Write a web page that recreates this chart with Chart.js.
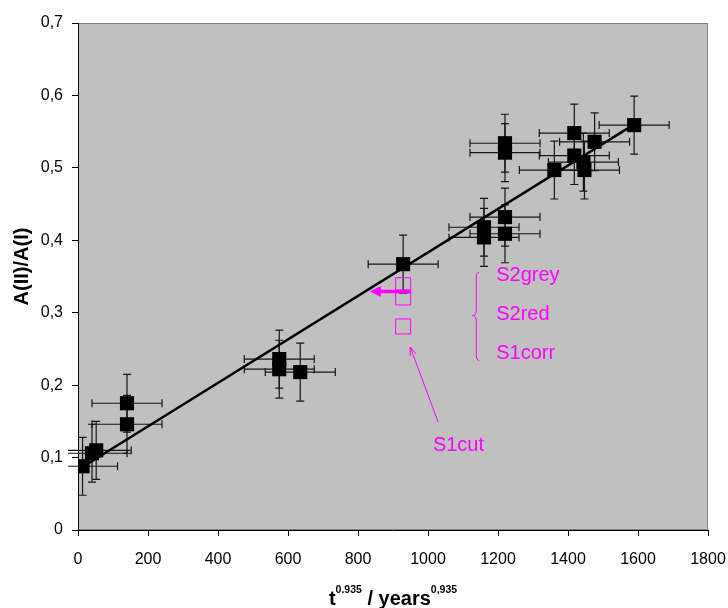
<!DOCTYPE html>
<html>
<head>
<meta charset="utf-8">
<script src="https://cdn.jsdelivr.net/npm/chart.js@4.4.0/dist/chart.umd.min.js"></script>
<style>
  body { margin: 0; background: #fff; }
  canvas { display: block; }
</style>
</head>
<body>
<canvas id="chart" width="728" height="608"></canvas>
<script>
// Measured points (black squares)
const pointX = [13, 40, 52, 140, 140, 575, 575, 635, 929, 1160, 1160, 1220, 1220, 1220, 1220, 1361, 1418, 1418, 1444, 1447, 1476, 1589];
const pointY = [0.088, 0.106, 0.110, 0.175, 0.146, 0.236, 0.222, 0.218, 0.367, 0.418, 0.404, 0.432, 0.409, 0.534, 0.521, 0.497, 0.548, 0.517, 0.508, 0.497, 0.536, 0.559];
const xError = 100;
const yError = 0.04;

// Linear fit
const fitX = [13, 1589];
const fitY = [0.087, 0.560];

// Corrected values (open magenta squares)
const magX = [929, 929, 929];
const magY = [0.338, 0.321, 0.281];
const magLabels = ['S2grey', 'S2red', 'S1corr'];
const magLabelX = 1195;
const magLabelY = [0.351, 0.298, 0.2435];

// Annotation anchors (data units)
const shiftArrow = { from: [949, 0.3294], to: [834, 0.3294] };
const braceX = [1127, 1138, 1146];   // tip, body, ends
const braceY = [0.356, 0.296, 0.234]; // top, middle, bottom
const cutLabel = { text: 'S1cut', x: 1014, y: 0.116 };
const cutArrow = { from: [1029, 0.149], to: [949, 0.2527] };

const MAGENTA = '#ff00ff';
const FONT = "'Liberation Sans', Arial, sans-serif";

// Grey plot area with a thin frame
const plotBg = {
  id: 'plotBg',
  beforeDraw(chart) {
    const { ctx, chartArea: a } = chart;
    ctx.save();
    ctx.fillStyle = '#c0c0c0';
    ctx.fillRect(a.left, a.top, a.width, a.height);
    ctx.strokeStyle = '#808080';
    ctx.lineWidth = 1;
    ctx.strokeRect(a.left + 0.5, a.top + 0.5, a.width - 1, a.height - 1);
    ctx.restore();
  }
};

// Error bars under the squares
const errorBars = {
  id: 'errorBars',
  beforeDatasetsDraw(chart) {
    const { ctx, chartArea: a, scales: { x, y } } = chart;
    ctx.save();
    ctx.beginPath();
    ctx.rect(a.left - 10, a.top - 20, a.width + 30, a.height + 30);
    ctx.clip();
    ctx.strokeStyle = '#151515';
    ctx.lineWidth = 1.2;
    const cap = 4;
    for (let i = 0; i < pointX.length; i++) {
      const px = x.getPixelForValue(pointX[i]);
      const py = y.getPixelForValue(pointY[i]);
      const x0 = x.getPixelForValue(pointX[i] - xError);
      const x1 = x.getPixelForValue(pointX[i] + xError);
      const y0 = y.getPixelForValue(pointY[i] - yError);
      const y1 = y.getPixelForValue(pointY[i] + yError);
      ctx.beginPath();
      ctx.moveTo(x0, py); ctx.lineTo(x1, py);
      ctx.moveTo(x0, py - cap); ctx.lineTo(x0, py + cap);
      ctx.moveTo(x1, py - cap); ctx.lineTo(x1, py + cap);
      ctx.moveTo(px, y0); ctx.lineTo(px, y1);
      ctx.moveTo(px - cap, y0); ctx.lineTo(px + cap, y0);
      ctx.moveTo(px - cap, y1); ctx.lineTo(px + cap, y1);
      ctx.stroke();
    }
    ctx.restore();
  }
};

// Magenta notes, arrows, brace and the axis titles
const notes = {
  id: 'notes',
  afterDatasetsDraw(chart) {
    const { ctx, chartArea: a, scales: { x, y } } = chart;
    const X = v => x.getPixelForValue(v);
    const Y = v => y.getPixelForValue(v);
    ctx.save();
    ctx.strokeStyle = MAGENTA;
    ctx.fillStyle = MAGENTA;

    // thick arrow pointing left
    const ax0 = X(shiftArrow.from[0]), ax1 = X(shiftArrow.to[0]), ay = Y(shiftArrow.from[1]);
    ctx.lineWidth = 3.5;
    ctx.beginPath();
    ctx.moveTo(ax0, ay); ctx.lineTo(ax1 + 8, ay);
    ctx.stroke();
    ctx.beginPath();
    ctx.moveTo(ax1, ay); ctx.lineTo(ax1 + 11, ay - 5.5); ctx.lineTo(ax1 + 11, ay + 5.5);
    ctx.closePath();
    ctx.fill();

    // brace
    const bt = X(braceX[0]), bb = X(braceX[1]), be = X(braceX[2]);
    const yt = Y(braceY[0]), ym = Y(braceY[1]), yb = Y(braceY[2]);
    ctx.lineWidth = 1;
    ctx.beginPath();
    ctx.moveTo(be, yt);
    ctx.quadraticCurveTo(bb, yt, bb, yt + 6);
    ctx.lineTo(bb, ym - 6);
    ctx.quadraticCurveTo(bb, ym, bt, ym);
    ctx.quadraticCurveTo(bb, ym, bb, ym + 6);
    ctx.lineTo(bb, yb - 6);
    ctx.quadraticCurveTo(bb, yb, be, yb);
    ctx.stroke();

    // labels
    ctx.font = '20px ' + FONT;
    ctx.textAlign = 'left';
    ctx.textBaseline = 'middle';
    magLabels.forEach((t, i) => ctx.fillText(t, X(magLabelX), Y(magLabelY[i])));
    ctx.fillText(cutLabel.text, X(cutLabel.x), Y(cutLabel.y));

    // thin arrow from S1cut
    const cx0 = X(cutArrow.from[0]), cy0 = Y(cutArrow.from[1]);
    const cx1 = X(cutArrow.to[0]), cy1 = Y(cutArrow.to[1]);
    const ang = Math.atan2(cy1 - cy0, cx1 - cx0);
    ctx.lineWidth = 1;
    ctx.beginPath();
    ctx.moveTo(cx0, cy0); ctx.lineTo(cx1, cy1);
    ctx.moveTo(cx1, cy1);
    ctx.lineTo(cx1 - 9 * Math.cos(ang - 0.35), cy1 - 9 * Math.sin(ang - 0.35));
    ctx.moveTo(cx1, cy1);
    ctx.lineTo(cx1 - 9 * Math.cos(ang + 0.35), cy1 - 9 * Math.sin(ang + 0.35));
    ctx.stroke();
    ctx.restore();

    // x title with superscripts
    ctx.save();
    ctx.fillStyle = '#000';
    ctx.textBaseline = 'alphabetic';
    ctx.textAlign = 'left';
    const parts = [
      { t: 't', sup: false },
      { t: '0.935', sup: true },
      { t: ' / years', sup: false },
      { t: '0,935', sup: true }
    ];
    const mainFont = 'bold 20px ' + FONT;
    const supFont = 'bold 10.5px ' + FONT;
    let total = 0;
    parts.forEach(p => { ctx.font = p.sup ? supFont : mainFont; p.w = ctx.measureText(p.t).width; total += p.w; });
    let tx = (a.left + a.right) / 2 - total / 2;
    const base = 605;
    parts.forEach(p => {
      ctx.font = p.sup ? supFont : mainFont;
      ctx.fillText(p.t, tx, p.sup ? base - 12 : base);
      tx += p.w;
    });

    // y title
    ctx.translate(22, (a.top + a.bottom) / 2 - 10);
    ctx.rotate(-Math.PI / 2);
    ctx.font = 'bold 20px ' + FONT;
    ctx.textAlign = 'center';
    ctx.textBaseline = 'middle';
    ctx.fillText('A(II)/A(I)', 0, 0);
    ctx.restore();
  }
};

const tickFont = { family: FONT, size: 16 };

// keep the plot box fixed: no extra room for edge labels
function fixBox(s, size) {
  if (s.isHorizontal()) s.height = size; else s.width = size;
  s.paddingLeft = 0;
  s.paddingRight = 0;
  s.paddingTop = 0;
  s.paddingBottom = 0;
}

new Chart(document.getElementById('chart'), {
  type: 'scatter',
  data: {
    datasets: [
      {
        label: 'measured',
        data: pointX.map((v, i) => ({ x: v, y: pointY[i] })),
        pointStyle: 'rect',
        pointRadius: 10,
        backgroundColor: '#000',
        borderWidth: 0,
        order: 0
      },
      {
        label: 'fit',
        data: fitX.map((v, i) => ({ x: v, y: fitY[i] })),
        showLine: true,
        borderColor: '#000',
        borderWidth: 2.5,
        pointRadius: 0,
        order: 1
      },
      {
        label: 'corrected',
        data: magX.map((v, i) => ({ x: v, y: magY[i] })),
        pointStyle: 'rect',
        pointRadius: 10.6,
        backgroundColor: 'rgba(0,0,0,0)',
        borderColor: MAGENTA,
        borderWidth: 1,
        order: 2
      }
    ]
  },
  options: {
    responsive: false,
    devicePixelRatio: 1,
    animation: false,
    layout: { padding: { top: 23, right: 20, left: 0, bottom: 0 } },
    plugins: {
      legend: { display: false },
      tooltip: { enabled: false }
    },
    scales: {
      x: {
        type: 'linear',
        min: 0,
        max: 1800,
        ticks: {
          stepSize: 200,
          color: '#000',
          font: tickFont,
          padding: 14,
          maxRotation: 0,
          callback: v => String(v)
        },
        grid: { drawOnChartArea: false, drawTicks: true, tickLength: 6, color: '#000' },
        border: { color: '#000', width: 1 },
        afterFit: s => fixBox(s, 78)
      },
      y: {
        min: 0,
        max: 0.7,
        ticks: {
          stepSize: 0.1,
          color: '#000',
          font: tickFont,
          padding: 9,
          callback: v => (v === 0 ? '0' : v.toFixed(1).replace('.', ','))
        },
        grid: { drawOnChartArea: false, drawTicks: true, tickLength: 6, color: '#000' },
        border: { color: '#000', width: 1 },
        afterFit: s => fixBox(s, 78)
      }
    }
  },
  plugins: [plotBg, errorBars, notes]
});
</script>
</body>
</html>
